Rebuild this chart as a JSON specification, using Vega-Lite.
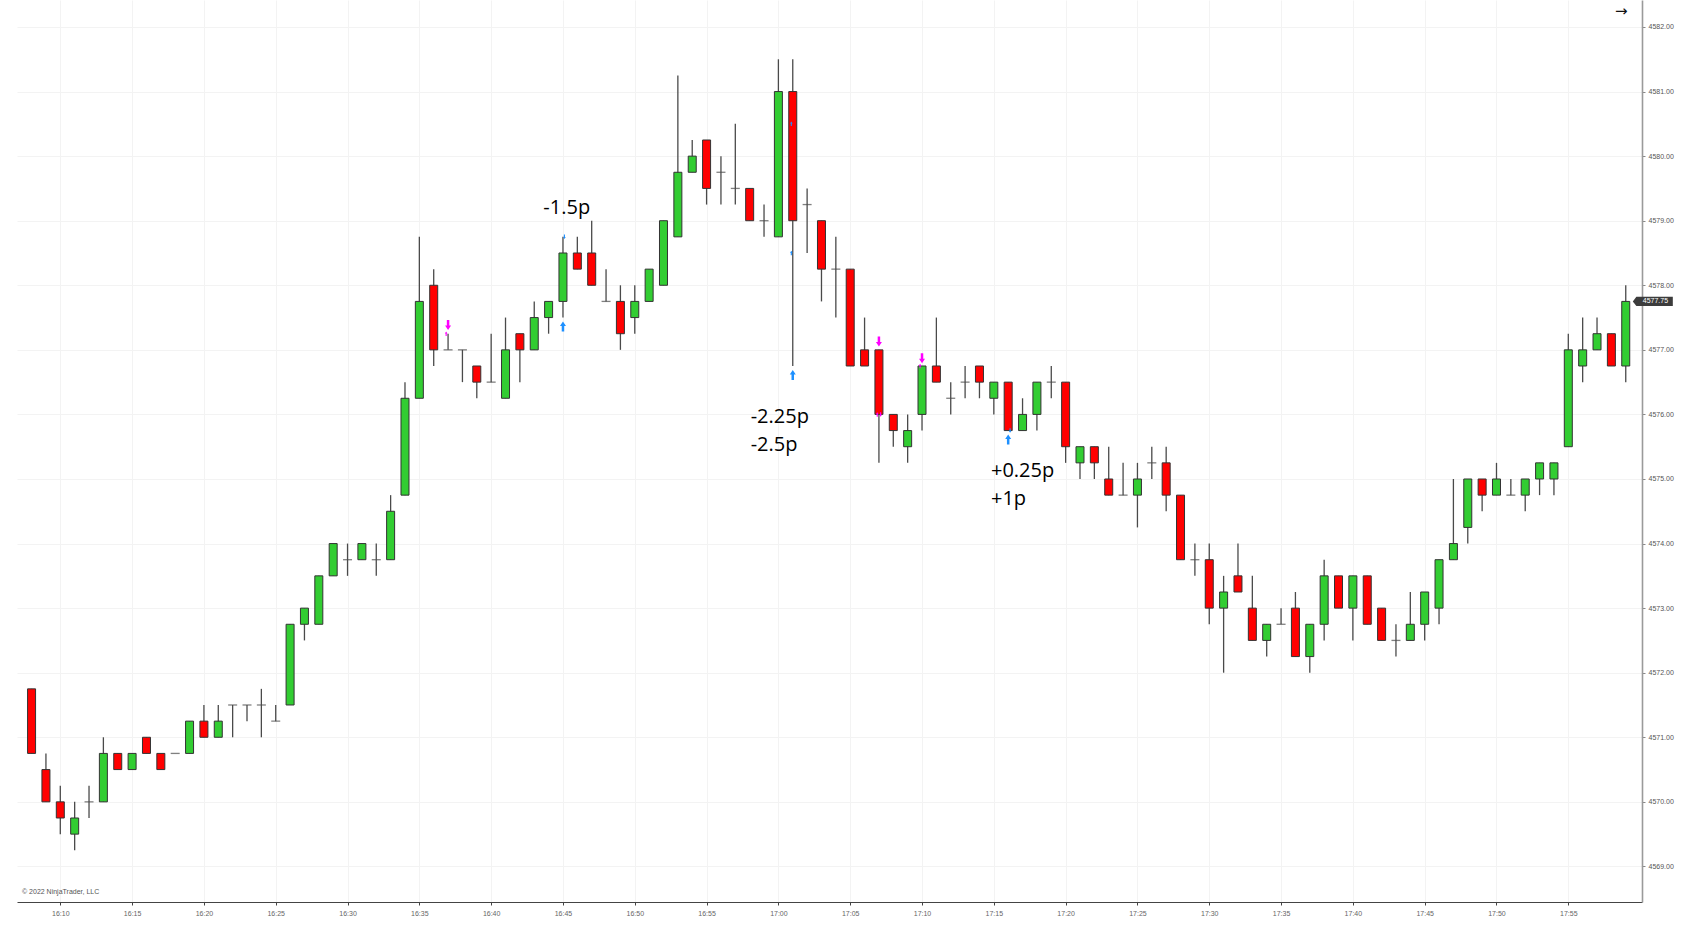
{
  "$schema": "https://vega.github.io/schema/vega-lite/v6.json",
  "width": 1625,
  "height": 902,
  "autosize": {"type": "none"},
  "padding": {"left": 17, "top": 0, "right": 50, "bottom": 34},
  "background": "white",
  "data": {
    "format": {"parse": {"t": "date:'%H:%M'"}},
    "values": [
      {"t": "16:08", "o": 4571.75, "h": 4571.75, "l": 4570.75, "c": 4570.75},
      {"t": "16:09", "o": 4570.5, "h": 4570.75, "l": 4570, "c": 4570},
      {"t": "16:10", "o": 4570, "h": 4570.25, "l": 4569.5, "c": 4569.75},
      {"t": "16:11", "o": 4569.5, "h": 4570, "l": 4569.25, "c": 4569.75},
      {"t": "16:12", "o": 4570, "h": 4570.25, "l": 4569.75, "c": 4570},
      {"t": "16:13", "o": 4570, "h": 4571, "l": 4570, "c": 4570.75},
      {"t": "16:14", "o": 4570.75, "h": 4570.75, "l": 4570.5, "c": 4570.5},
      {"t": "16:15", "o": 4570.5, "h": 4570.75, "l": 4570.5, "c": 4570.75},
      {"t": "16:16", "o": 4571, "h": 4571, "l": 4570.75, "c": 4570.75},
      {"t": "16:17", "o": 4570.75, "h": 4570.75, "l": 4570.5, "c": 4570.5},
      {"t": "16:18", "o": 4570.75, "h": 4570.75, "l": 4570.75, "c": 4570.75},
      {"t": "16:19", "o": 4570.75, "h": 4571.25, "l": 4570.75, "c": 4571.25},
      {"t": "16:20", "o": 4571.25, "h": 4571.5, "l": 4571, "c": 4571},
      {"t": "16:21", "o": 4571, "h": 4571.5, "l": 4571, "c": 4571.25},
      {"t": "16:22", "o": 4571.5, "h": 4571.5, "l": 4571, "c": 4571.5},
      {"t": "16:23", "o": 4571.5, "h": 4571.5, "l": 4571.25, "c": 4571.5},
      {"t": "16:24", "o": 4571.5, "h": 4571.75, "l": 4571, "c": 4571.5},
      {"t": "16:25", "o": 4571.25, "h": 4571.5, "l": 4571.25, "c": 4571.25},
      {"t": "16:26", "o": 4571.5, "h": 4572.75, "l": 4571.5, "c": 4572.75},
      {"t": "16:27", "o": 4572.75, "h": 4573, "l": 4572.5, "c": 4573},
      {"t": "16:28", "o": 4572.75, "h": 4573.5, "l": 4572.75, "c": 4573.5},
      {"t": "16:29", "o": 4573.5, "h": 4574, "l": 4573.5, "c": 4574},
      {"t": "16:30", "o": 4573.75, "h": 4574, "l": 4573.5, "c": 4573.75},
      {"t": "16:31", "o": 4573.75, "h": 4574, "l": 4573.75, "c": 4574},
      {"t": "16:32", "o": 4573.75, "h": 4574, "l": 4573.5, "c": 4573.75},
      {"t": "16:33", "o": 4573.75, "h": 4574.75, "l": 4573.75, "c": 4574.5},
      {"t": "16:34", "o": 4574.75, "h": 4576.5, "l": 4574.75, "c": 4576.25},
      {"t": "16:35", "o": 4576.25, "h": 4578.75, "l": 4576.25, "c": 4577.75},
      {"t": "16:36", "o": 4578, "h": 4578.25, "l": 4576.75, "c": 4577},
      {"t": "16:37", "o": 4577, "h": 4577.25, "l": 4577, "c": 4577},
      {"t": "16:38", "o": 4577, "h": 4577, "l": 4576.5, "c": 4577},
      {"t": "16:39", "o": 4576.75, "h": 4576.75, "l": 4576.25, "c": 4576.5},
      {"t": "16:40", "o": 4576.5, "h": 4577.25, "l": 4576.5, "c": 4576.5},
      {"t": "16:41", "o": 4576.25, "h": 4577.5, "l": 4576.25, "c": 4577},
      {"t": "16:42", "o": 4577.25, "h": 4577.25, "l": 4576.5, "c": 4577},
      {"t": "16:43", "o": 4577, "h": 4577.75, "l": 4577, "c": 4577.5},
      {"t": "16:44", "o": 4577.5, "h": 4577.75, "l": 4577.25, "c": 4577.75},
      {"t": "16:45", "o": 4577.75, "h": 4578.75, "l": 4577.5, "c": 4578.5},
      {"t": "16:46", "o": 4578.5, "h": 4578.75, "l": 4578.25, "c": 4578.25},
      {"t": "16:47", "o": 4578.5, "h": 4579, "l": 4578, "c": 4578},
      {"t": "16:48", "o": 4577.75, "h": 4578.25, "l": 4577.75, "c": 4577.75},
      {"t": "16:49", "o": 4577.75, "h": 4578, "l": 4577, "c": 4577.25},
      {"t": "16:50", "o": 4577.5, "h": 4578, "l": 4577.25, "c": 4577.75},
      {"t": "16:51", "o": 4577.75, "h": 4578.25, "l": 4577.75, "c": 4578.25},
      {"t": "16:52", "o": 4578, "h": 4579, "l": 4578, "c": 4579},
      {"t": "16:53", "o": 4578.75, "h": 4581.25, "l": 4578.75, "c": 4579.75},
      {"t": "16:54", "o": 4579.75, "h": 4580.25, "l": 4579.75, "c": 4580},
      {"t": "16:55", "o": 4580.25, "h": 4580.25, "l": 4579.25, "c": 4579.5},
      {"t": "16:56", "o": 4579.75, "h": 4580, "l": 4579.25, "c": 4579.75},
      {"t": "16:57", "o": 4579.5, "h": 4580.5, "l": 4579.25, "c": 4579.5},
      {"t": "16:58", "o": 4579.5, "h": 4579.5, "l": 4579, "c": 4579},
      {"t": "16:59", "o": 4579, "h": 4579.25, "l": 4578.75, "c": 4579},
      {"t": "17:00", "o": 4578.75, "h": 4581.5, "l": 4578.75, "c": 4581},
      {"t": "17:01", "o": 4581, "h": 4581.5, "l": 4576.75, "c": 4579},
      {"t": "17:02", "o": 4579.25, "h": 4579.5, "l": 4578.5, "c": 4579.25},
      {"t": "17:03", "o": 4579, "h": 4579, "l": 4577.75, "c": 4578.25},
      {"t": "17:04", "o": 4578.25, "h": 4578.75, "l": 4577.5, "c": 4578.25},
      {"t": "17:05", "o": 4578.25, "h": 4578.25, "l": 4576.75, "c": 4576.75},
      {"t": "17:06", "o": 4577, "h": 4577.5, "l": 4576.75, "c": 4576.75},
      {"t": "17:07", "o": 4577, "h": 4577, "l": 4575.25, "c": 4576},
      {"t": "17:08", "o": 4576, "h": 4576, "l": 4575.5, "c": 4575.75},
      {"t": "17:09", "o": 4575.5, "h": 4576, "l": 4575.25, "c": 4575.75},
      {"t": "17:10", "o": 4576, "h": 4576.75, "l": 4575.75, "c": 4576.75},
      {"t": "17:11", "o": 4576.75, "h": 4577.5, "l": 4576.5, "c": 4576.5},
      {"t": "17:12", "o": 4576.25, "h": 4576.5, "l": 4576, "c": 4576.25},
      {"t": "17:13", "o": 4576.5, "h": 4576.75, "l": 4576.25, "c": 4576.5},
      {"t": "17:14", "o": 4576.75, "h": 4576.75, "l": 4576.25, "c": 4576.5},
      {"t": "17:15", "o": 4576.25, "h": 4576.5, "l": 4576, "c": 4576.5},
      {"t": "17:16", "o": 4576.5, "h": 4576.5, "l": 4575.75, "c": 4575.75},
      {"t": "17:17", "o": 4575.75, "h": 4576.25, "l": 4575.75, "c": 4576},
      {"t": "17:18", "o": 4576, "h": 4576.5, "l": 4575.75, "c": 4576.5},
      {"t": "17:19", "o": 4576.5, "h": 4576.75, "l": 4576.25, "c": 4576.5},
      {"t": "17:20", "o": 4576.5, "h": 4576.5, "l": 4575.25, "c": 4575.5},
      {"t": "17:21", "o": 4575.25, "h": 4575.5, "l": 4575, "c": 4575.5},
      {"t": "17:22", "o": 4575.5, "h": 4575.5, "l": 4575, "c": 4575.25},
      {"t": "17:23", "o": 4575, "h": 4575.5, "l": 4574.75, "c": 4574.75},
      {"t": "17:24", "o": 4574.75, "h": 4575.25, "l": 4574.75, "c": 4574.75},
      {"t": "17:25", "o": 4574.75, "h": 4575.25, "l": 4574.25, "c": 4575},
      {"t": "17:26", "o": 4575.25, "h": 4575.5, "l": 4575, "c": 4575.25},
      {"t": "17:27", "o": 4575.25, "h": 4575.5, "l": 4574.5, "c": 4574.75},
      {"t": "17:28", "o": 4574.75, "h": 4574.75, "l": 4573.75, "c": 4573.75},
      {"t": "17:29", "o": 4573.75, "h": 4574, "l": 4573.5, "c": 4573.75},
      {"t": "17:30", "o": 4573.75, "h": 4574, "l": 4572.75, "c": 4573},
      {"t": "17:31", "o": 4573, "h": 4573.5, "l": 4572, "c": 4573.25},
      {"t": "17:32", "o": 4573.5, "h": 4574, "l": 4573.25, "c": 4573.25},
      {"t": "17:33", "o": 4573, "h": 4573.5, "l": 4572.5, "c": 4572.5},
      {"t": "17:34", "o": 4572.5, "h": 4572.75, "l": 4572.25, "c": 4572.75},
      {"t": "17:35", "o": 4572.75, "h": 4573, "l": 4572.75, "c": 4572.75},
      {"t": "17:36", "o": 4573, "h": 4573.25, "l": 4572.25, "c": 4572.25},
      {"t": "17:37", "o": 4572.25, "h": 4572.75, "l": 4572, "c": 4572.75},
      {"t": "17:38", "o": 4572.75, "h": 4573.75, "l": 4572.5, "c": 4573.5},
      {"t": "17:39", "o": 4573.5, "h": 4573.5, "l": 4573, "c": 4573},
      {"t": "17:40", "o": 4573, "h": 4573.5, "l": 4572.5, "c": 4573.5},
      {"t": "17:41", "o": 4573.5, "h": 4573.5, "l": 4572.75, "c": 4572.75},
      {"t": "17:42", "o": 4573, "h": 4573, "l": 4572.5, "c": 4572.5},
      {"t": "17:43", "o": 4572.5, "h": 4572.75, "l": 4572.25, "c": 4572.5},
      {"t": "17:44", "o": 4572.5, "h": 4573.25, "l": 4572.5, "c": 4572.75},
      {"t": "17:45", "o": 4572.75, "h": 4573.25, "l": 4572.5, "c": 4573.25},
      {"t": "17:46", "o": 4573, "h": 4573.75, "l": 4572.75, "c": 4573.75},
      {"t": "17:47", "o": 4573.75, "h": 4575, "l": 4573.75, "c": 4574},
      {"t": "17:48", "o": 4574.25, "h": 4575, "l": 4574, "c": 4575},
      {"t": "17:49", "o": 4575, "h": 4575, "l": 4574.5, "c": 4574.75},
      {"t": "17:50", "o": 4574.75, "h": 4575.25, "l": 4574.75, "c": 4575},
      {"t": "17:51", "o": 4574.75, "h": 4575, "l": 4574.75, "c": 4574.75},
      {"t": "17:52", "o": 4574.75, "h": 4575, "l": 4574.5, "c": 4575},
      {"t": "17:53", "o": 4575, "h": 4575.25, "l": 4574.75, "c": 4575.25},
      {"t": "17:54", "o": 4575, "h": 4575.25, "l": 4574.75, "c": 4575.25},
      {"t": "17:55", "o": 4575.5, "h": 4577.25, "l": 4575.5, "c": 4577},
      {"t": "17:56", "o": 4576.75, "h": 4577.5, "l": 4576.5, "c": 4577},
      {"t": "17:57", "o": 4577, "h": 4577.5, "l": 4577, "c": 4577.25},
      {"t": "17:58", "o": 4577.25, "h": 4577.25, "l": 4576.75, "c": 4576.75},
      {"t": "17:59", "o": 4576.75, "h": 4578, "l": 4576.5, "c": 4577.75}
    ]
  },
  "layer": [
    {
      "mark": {"type": "rule", "color": "#4a4a4a", "strokeWidth": 1.3},
      "encoding": {
        "x": {
          "field": "t", "type": "temporal",
          "scale": {
            "domain": [
              {"year": 1900, "month": 1, "date": 1, "hours": 16, "minutes": 7, "seconds": 20},
              {"year": 1900, "month": 1, "date": 1, "hours": 17, "minutes": 59, "seconds": 47}
            ],
            "nice": false
          },
          "axis": {
            "orient": "bottom", "title": null, "format": "%H:%M",
            "values": [
              {"year": 1900, "month": 1, "date": 1, "hours": 16, "minutes": 10},
              {"year": 1900, "month": 1, "date": 1, "hours": 16, "minutes": 15},
              {"year": 1900, "month": 1, "date": 1, "hours": 16, "minutes": 20},
              {"year": 1900, "month": 1, "date": 1, "hours": 16, "minutes": 25},
              {"year": 1900, "month": 1, "date": 1, "hours": 16, "minutes": 30},
              {"year": 1900, "month": 1, "date": 1, "hours": 16, "minutes": 35},
              {"year": 1900, "month": 1, "date": 1, "hours": 16, "minutes": 40},
              {"year": 1900, "month": 1, "date": 1, "hours": 16, "minutes": 45},
              {"year": 1900, "month": 1, "date": 1, "hours": 16, "minutes": 50},
              {"year": 1900, "month": 1, "date": 1, "hours": 16, "minutes": 55},
              {"year": 1900, "month": 1, "date": 1, "hours": 17, "minutes": 0},
              {"year": 1900, "month": 1, "date": 1, "hours": 17, "minutes": 5},
              {"year": 1900, "month": 1, "date": 1, "hours": 17, "minutes": 10},
              {"year": 1900, "month": 1, "date": 1, "hours": 17, "minutes": 15},
              {"year": 1900, "month": 1, "date": 1, "hours": 17, "minutes": 20},
              {"year": 1900, "month": 1, "date": 1, "hours": 17, "minutes": 25},
              {"year": 1900, "month": 1, "date": 1, "hours": 17, "minutes": 30},
              {"year": 1900, "month": 1, "date": 1, "hours": 17, "minutes": 35},
              {"year": 1900, "month": 1, "date": 1, "hours": 17, "minutes": 40},
              {"year": 1900, "month": 1, "date": 1, "hours": 17, "minutes": 45},
              {"year": 1900, "month": 1, "date": 1, "hours": 17, "minutes": 50},
              {"year": 1900, "month": 1, "date": 1, "hours": 17, "minutes": 55}
            ],
            "labelFont": "Liberation Sans", "labelFontSize": 7, "labelColor": "#666666",
            "labelPadding": 4, "labelFlush": false, "labelOverlap": false,
            "tickSize": 3, "tickColor": "#444444",
            "domainColor": "#444444", "domainWidth": 1.2,
            "grid": true, "gridColor": "#f3f3f3"
          }
        },
        "y": {
          "field": "l", "type": "quantitative",
          "scale": {"domain": [4568.449, 4582.418], "nice": false, "zero": false},
          "axis": {
            "orient": "right", "title": null, "format": ".2f",
            "values": [4569, 4570, 4571, 4572, 4573, 4574, 4575, 4576, 4577, 4578, 4579, 4580, 4581, 4582],
            "labelFont": "Liberation Sans", "labelFontSize": 7, "labelColor": "#555555",
            "labelPadding": 3, "tickSize": 3, "tickColor": "#888888",
            "domainColor": "#9a9a9a", "domainWidth": 1.6,
            "grid": true, "gridColor": "#f3f3f3"
          }
        },
        "y2": {"field": "h"}
      }
    },
    {
      "transform": [{"filter": "datum.o != datum.c"}],
      "mark": {"type": "bar", "width": 8, "stroke": "#333333", "strokeWidth": 1},
      "encoding": {
        "x": {"field": "t", "type": "temporal"},
        "y": {"field": "o", "type": "quantitative"},
        "y2": {"field": "c"},
        "color": {
          "condition": {"test": "datum.c > datum.o", "value": "#32cd32"},
          "value": "#ff0000"
        }
      }
    },
    {
      "transform": [{"filter": "datum.o == datum.c"}],
      "mark": {"type": "tick", "orient": "horizontal", "size": 9, "thickness": 1.3, "color": "#4a4a4a"},
      "encoding": {
        "x": {"field": "t", "type": "temporal"},
        "y": {"field": "o", "type": "quantitative"}
      }
    },
    {
      "data": {
        "format": {"parse": {"t": "date:'%H:%M:%S'"}},
        "values": [
          {"t": "16:37:00", "p": 4577.385, "kind": "down", "side": "sell"},
          {"t": "16:45:00", "p": 4577.36, "kind": "up", "side": "buy"},
          {"t": "17:01:00", "p": 4576.61, "kind": "up", "side": "buy"},
          {"t": "17:07:00", "p": 4577.13, "kind": "down", "side": "sell"},
          {"t": "17:10:00", "p": 4576.87, "kind": "down", "side": "sell"},
          {"t": "17:16:00", "p": 4575.61, "kind": "up", "side": "buy"}
        ]
      },
      "mark": {"type": "point", "filled": true, "opacity": 1, "strokeWidth": 0, "size": 100},
      "encoding": {
        "x": {"field": "t", "type": "temporal"},
        "y": {"field": "p", "type": "quantitative"},
        "shape": {
          "field": "kind", "type": "nominal", "legend": null,
          "scale": {
            "domain": ["down", "up"],
            "range": [
              "M-0.25,-1L0.25,-1L0.25,0.1L0.6,0.1L0,1L-0.6,0.1L-0.25,0.1Z",
              "M-0.25,1L0.25,1L0.25,-0.1L0.6,-0.1L0,-1L-0.6,-0.1L-0.25,-0.1Z"
            ]
          }
        },
        "color": {
          "field": "side", "type": "nominal", "legend": null,
          "scale": {"domain": ["sell", "buy"], "range": ["#ff00ff", "#1e90ff"]}
        }
      }
    },
    {
      "data": {
        "format": {"parse": {"t": "date:'%H:%M:%S'"}},
        "values": [
          {"t": "16:36:52", "p": 4577.25, "kind": "fill-right", "side": "sell"},
          {"t": "16:45:06", "p": 4578.75, "kind": "fill-left", "side": "buy"},
          {"t": "17:00:54", "p": 4580.5, "kind": "fill-right", "side": "buy"},
          {"t": "17:00:54", "p": 4578.5, "kind": "fill-right", "side": "buy"},
          {"t": "17:06:53", "p": 4576.0, "kind": "fill-right", "side": "sell"},
          {"t": "17:07:07", "p": 4576.0, "kind": "fill-left", "side": "sell"},
          {"t": "17:09:52", "p": 4576.75, "kind": "fill-right", "side": "sell"},
          {"t": "17:16:08", "p": 4575.75, "kind": "fill-left", "side": "buy"}
        ]
      },
      "mark": {"type": "point", "filled": true, "opacity": 1, "strokeWidth": 0, "size": 20},
      "encoding": {
        "x": {"field": "t", "type": "temporal"},
        "y": {"field": "p", "type": "quantitative"},
        "shape": {
          "field": "kind", "type": "nominal", "legend": null,
          "scale": {"domain": ["fill-left", "fill-right"], "range": ["triangle-left", "triangle-right"]}
        },
        "color": {
          "field": "side", "type": "nominal", "legend": null,
          "scale": {"domain": ["sell", "buy"], "range": ["#ff00ff", "#1e90ff"]}
        }
      }
    },
    {
      "data": {
        "format": {"parse": {"t": "date:'%H:%M:%S'"}},
        "values": [
          {"t": "16:43:38", "p": 4579.2, "label": "-1.5p"},
          {"t": "16:58:04", "p": 4575.965, "label": "-2.25p"},
          {"t": "16:58:04", "p": 4575.53, "label": "-2.5p"},
          {"t": "17:14:48", "p": 4575.12, "label": "+0.25p"},
          {"t": "17:14:48", "p": 4574.69, "label": "+1p"}
        ]
      },
      "mark": {"type": "text", "align": "left", "baseline": "middle", "font": "Open Sans", "fontSize": 20, "color": "#000000"},
      "encoding": {
        "x": {"field": "t", "type": "temporal"},
        "y": {"field": "p", "type": "quantitative"},
        "text": {"field": "label"}
      }
    },
    {
      "data": {
        "format": {"parse": {"t": "date:'%H:%M:%S'"}},
        "values": [{"t": "16:07:20", "p": 4568.604, "label": "© 2022 NinjaTrader, LLC"}]
      },
      "mark": {"type": "text", "align": "left", "baseline": "middle", "font": "Liberation Sans", "fontSize": 7, "color": "#555555"},
      "encoding": {
        "x": {"field": "t", "type": "temporal"},
        "y": {"field": "p", "type": "quantitative"},
        "text": {"field": "label"}
      }
    },
    {
      "data": {
        "format": {"parse": {"t": "date:'%H:%M:%S'"}},
        "values": [{"t": "17:58:41", "p": 4582.248, "label": "→"}]
      },
      "mark": {"type": "text", "align": "center", "baseline": "middle", "font": "DejaVu Sans", "fontSize": 15, "color": "#111111"},
      "encoding": {
        "x": {"field": "t", "type": "temporal"},
        "y": {"field": "p", "type": "quantitative"},
        "text": {"field": "label"}
      }
    },
    {
      "data": {
        "format": {"parse": {"t": "date:'%H:%M:%S'"}},
        "values": [{"t": "18:00:53", "p": 4577.75, "label": "4577.75"}]
      },
      "mark": {
        "type": "point", "filled": true, "opacity": 1, "strokeWidth": 0, "color": "#3c3c3c",
        "shape": "M-1,0L-0.82,-0.23L1,-0.23L1,0.23L-0.82,0.23Z", "size": 1600
      },
      "encoding": {
        "x": {"field": "t", "type": "temporal"},
        "y": {"field": "p", "type": "quantitative"}
      }
    },
    {
      "data": {
        "format": {"parse": {"t": "date:'%H:%M:%S'"}},
        "values": [{"t": "18:01:04", "p": 4577.75, "label": "4577.75"}]
      },
      "mark": {"type": "text", "align": "center", "baseline": "middle", "font": "Liberation Sans", "fontSize": 7, "color": "#ffffff"},
      "encoding": {
        "x": {"field": "t", "type": "temporal"},
        "y": {"field": "p", "type": "quantitative"},
        "text": {"field": "label"}
      }
    }
  ],
  "config": {
    "view": {"stroke": null}
  }
}
